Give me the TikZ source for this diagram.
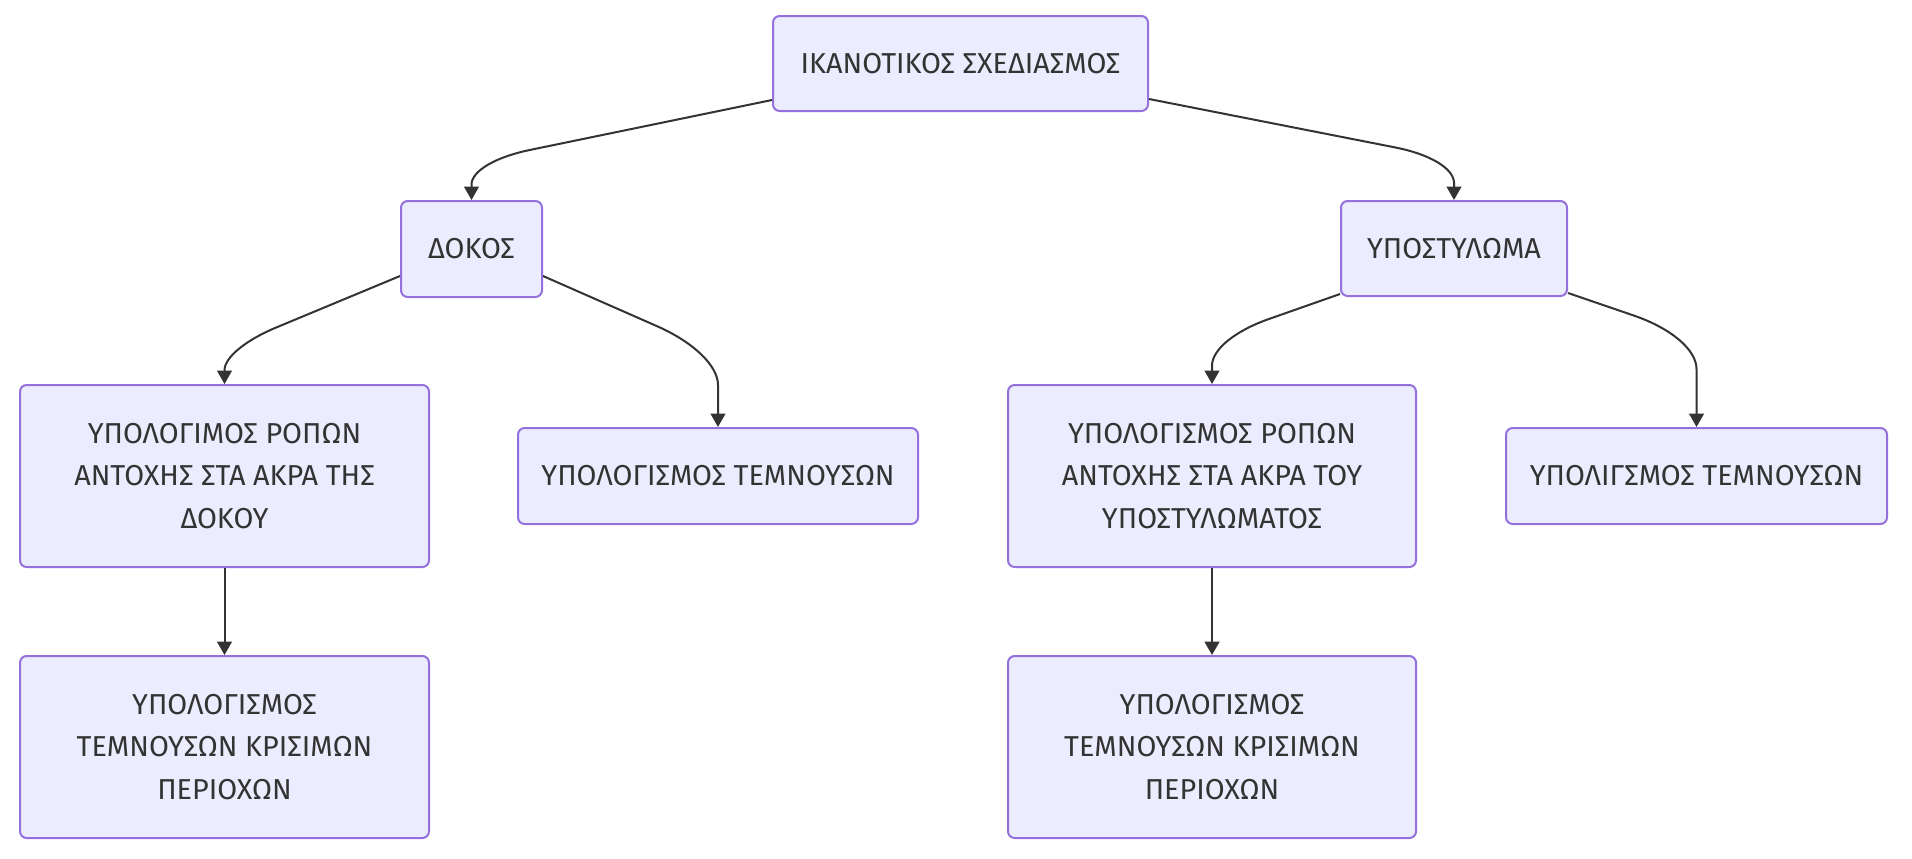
\documentclass[tikz,border=0pt]{standalone}
\usepackage{fontspec}
\setmainfont{Fira Sans}
\usetikzlibrary{arrows.meta,calc}
\definecolor{boxfill}{HTML}{ECECFF}
\definecolor{boxdraw}{HTML}{9370DB}
\definecolor{ink}{HTML}{333333}
\tikzset{
  box/.style={draw=boxdraw, fill=boxfill, line width=1.5pt, rounded corners=5pt,
    text=ink, align=center, inner sep=0pt, font=\fontsize{21.6}{32}\selectfont},
  conn/.style={draw=ink, line width=1.5pt,
    -{Triangle[length=10pt,width=11pt]}}
}
\begin{document}
\begin{tikzpicture}[x=0.75pt,y=-0.75pt]
\useasboundingbox (0,0) rectangle (1912,858);
\node[box, minimum width={375*0.75pt}, minimum height={95*0.75pt}] (top) at (960.5,63.5) {ΙΚΑΝΟΤΙΚΟΣ ΣΧΕΔΙΑΣΜΟΣ};
\node[box, minimum width={141*0.75pt}, minimum height={96*0.75pt}] (doc) at (471.5,249) {ΔΟΚΟΣ};
\node[box, minimum width={226*0.75pt}, minimum height={95*0.75pt}] (col) at (1454,248.5) {ΥΠΟΣΤΥΛΩΜΑ};
\node[box, minimum width={409*0.75pt}, minimum height={182*0.75pt}] (lm) at (224.5,476) {ΥΠΟΛΟΓΙΜΟΣ ΡΟΠΩΝ\\ΑΝΤΟΧΗΣ ΣΤΑ ΑΚΡΑ ΤΗΣ\\ΔΟΚΟΥ};
\node[box, minimum width={400*0.75pt}, minimum height={96*0.75pt}] (tm) at (718,476) {ΥΠΟΛΟΓΙΣΜΟΣ ΤΕΜΝΟΥΣΩΝ};
\node[box, minimum width={408*0.75pt}, minimum height={182*0.75pt}] (rm) at (1212,476) {ΥΠΟΛΟΓΙΣΜΟΣ ΡΟΠΩΝ\\ΑΝΤΟΧΗΣ ΣΤΑ ΑΚΡΑ ΤΟΥ\\ΥΠΟΣΤΥΛΩΜΑΤΟΣ};
\node[box, minimum width={381*0.75pt}, minimum height={96*0.75pt}] (rr) at (1696.5,476) {ΥΠΟΛΙΓΣΜΟΣ ΤΕΜΝΟΥΣΩΝ};
\node[box, minimum width={409*0.75pt}, minimum height={182*0.75pt}] (bl) at (224.5,747) {ΥΠΟΛΟΓΙΣΜΟΣ\\ΤΕΜΝΟΥΣΩΝ ΚΡΙΣΙΜΩΝ\\ΠΕΡΙΟΧΩΝ};
\node[box, minimum width={408*0.75pt}, minimum height={182*0.75pt}] (br) at (1212,747) {ΥΠΟΛΟΓΙΣΜΟΣ\\ΤΕΜΝΟΥΣΩΝ ΚΡΙΣΙΜΩΝ\\ΠΕΡΙΟΧΩΝ};
\coordinate (s1) at ([yshift={12*0.75pt}]top.south west);
\coordinate (s2) at ([yshift={13*0.75pt}]top.south east);
\coordinate (s3) at ([yshift={22*0.75pt}]doc.south west);
\coordinate (s4) at ([yshift={22*0.75pt}]doc.south east);
\coordinate (s5) at ([yshift={3*0.75pt}]col.south west);
\coordinate (s6) at ([yshift={4*0.75pt}]col.south east);
\coordinate (k1) at (471.5,162);
\coordinate (k2) at (1454,159);
\coordinate (k3) at (224.5,349);
\coordinate (k4) at (718,353);
\coordinate (k5) at (1212,339);
\coordinate (k6) at (1696.5,337);
\coordinate (a1) at ($(k1)!45pt!(s1)$); \coordinate (b1) at ($(k1)!17pt!(doc.north)$);
\coordinate (a2) at ($(k2)!45pt!(s2)$); \coordinate (b2) at ($(k2)!18pt!(col.north)$);
\coordinate (a3) at ($(k3)!42pt!(s3)$); \coordinate (b3) at ($(k3)!16pt!(lm.north)$);
\coordinate (a4) at ($(k4)!50pt!(s4)$); \coordinate (b4) at ($(k4)!24pt!(tm.north)$);
\coordinate (a5) at ($(k5)!45pt!(s5)$); \coordinate (b5) at ($(k5)!20pt!(rm.north)$);
\coordinate (a6) at ($(k6)!50pt!(s6)$); \coordinate (b6) at ($(k6)!24pt!(rr.north)$);
\draw[conn] (s1) -- (a1) .. controls ($(a1)!0.6!(k1)$) and ($(b1)!0.6!(k1)$) .. (b1) -- (doc.north);
\draw[conn] (s2) -- (a2) .. controls ($(a2)!0.6!(k2)$) and ($(b2)!0.6!(k2)$) .. (b2) -- (col.north);
\draw[conn] (s3) -- (a3) .. controls ($(a3)!0.6!(k3)$) and ($(b3)!0.6!(k3)$) .. (b3) -- (lm.north);
\draw[conn] (s4) -- (a4) .. controls ($(a4)!0.6!(k4)$) and ($(b4)!0.6!(k4)$) .. (b4) -- (tm.north);
\draw[conn] (s5) -- (a5) .. controls ($(a5)!0.6!(k5)$) and ($(b5)!0.6!(k5)$) .. (b5) -- (rm.north);
\draw[conn] (s6) -- (a6) .. controls ($(a6)!0.6!(k6)$) and ($(b6)!0.6!(k6)$) .. (b6) -- (rr.north);
\draw[conn] (lm) -- (bl);
\draw[conn] (rm) -- (br);
\end{tikzpicture}
\end{document}
